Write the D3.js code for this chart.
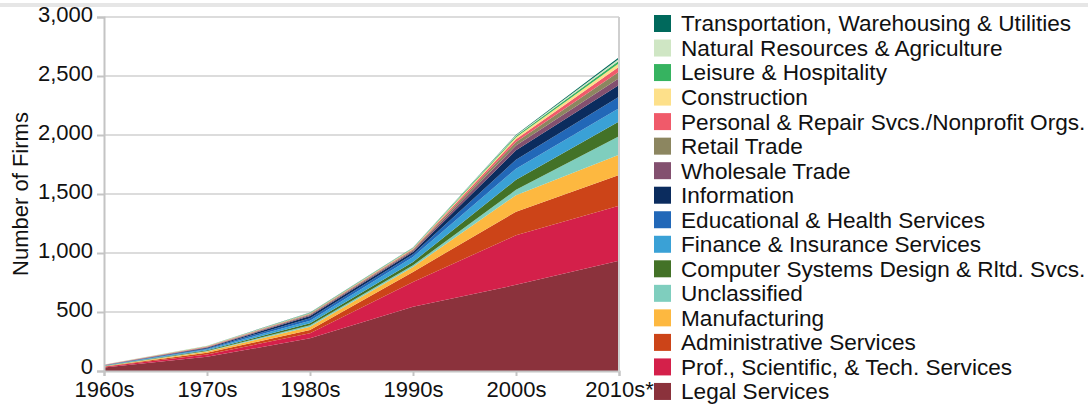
<!DOCTYPE html>
<html>
<head>
<meta charset="utf-8">
<script src="https://cdn.jsdelivr.net/npm/d3@7"></script>
<style>
  body { margin: 0; background: #fff; }
  svg text { font-family: "Liberation Sans", Arial, sans-serif; fill: #111; }
</style>
</head>
<body>
<div id="chart"></div>
<script>
// decades on the x axis
const decades = ["1960s", "1970s", "1980s", "1990s", "2000s", "2010s*"];

// number of firms per sector (bottom layer first)
const legalServices      = [30, 120, 277, 545, 730, 935];
const profSciTech        = [5, 20, 42, 210, 420, 465];
const adminServices      = [3, 14, 28, 85, 200, 260];
const manufacturing      = [3, 12, 28, 42, 140, 173];
const unclassified       = [1, 4, 12, 14, 45, 157];
const computerSystems    = [2, 6, 17, 28, 85, 125];
const financeInsurance   = [2, 8, 22, 43, 95, 111];
const eduHealth          = [2, 7, 21, 23, 75, 99];
const information        = [1, 6, 19, 19, 80, 99];
const wholesaleTrade     = [1, 4, 8, 10, 40, 56];
const retailTrade        = [1, 3, 6, 8, 30, 57];
const personalRepair     = [1, 3, 5, 7, 25, 42];
const construction       = [1, 2, 3, 5, 15, 28];
const leisureHospitality = [1, 2, 3, 4, 12, 23];
const naturalResources   = [1, 2, 2, 2, 6, 17];
const transportation     = [0, 1, 2, 2, 5, 11];

const yTicks = [0, 500, 1000, 1500, 2000, 2500, 3000];

const sectors = [
  {key: "Legal Services", values: legalServices, color: "#8b323c"},
  {key: "Prof., Scientific, & Tech. Services", values: profSciTech, color: "#d4204a"},
  {key: "Administrative Services", values: adminServices, color: "#cc4418"},
  {key: "Manufacturing", values: manufacturing, color: "#fdb840"},
  {key: "Unclassified", values: unclassified, color: "#7fcebe"},
  {key: "Computer Systems Design & Rltd. Svcs.", values: computerSystems, color: "#437227"},
  {key: "Finance & Insurance Services", values: financeInsurance, color: "#3aa1d6"},
  {key: "Educational & Health Services", values: eduHealth, color: "#2268b8"},
  {key: "Information", values: information, color: "#0b2c5e"},
  {key: "Wholesale Trade", values: wholesaleTrade, color: "#83506f"},
  {key: "Retail Trade", values: retailTrade, color: "#8c8660"},
  {key: "Personal & Repair Svcs./Nonprofit Orgs.", values: personalRepair, color: "#f05a6a"},
  {key: "Construction", values: construction, color: "#fde08a"},
  {key: "Leisure & Hospitality", values: leisureHospitality, color: "#36b360"},
  {key: "Natural Resources & Agriculture", values: naturalResources, color: "#cfe6c4"},
  {key: "Transportation, Warehousing & Utilities", values: transportation, color: "#00695c"}
];

const width = 1088, height = 404;
const svg = d3.select("#chart").append("svg")
  .attr("width", width).attr("height", height);

// thin band along the top
svg.append("rect").attr("x", 0).attr("y", 3).attr("width", width).attr("height", 4).attr("fill", "#e6e6e6");

const x = d3.scalePoint().domain(decades).range([104, 619]);
const y = d3.scaleLinear().domain([0, 3000]).range([371, 17]);

// rows for the stack
const table = decades.map((d, i) => {
  const row = {decade: d};
  sectors.forEach(s => row[s.key] = s.values[i]);
  return row;
});

const stack = d3.stack().keys(sectors.map(s => s.key));
const layers = stack(table);

// gridlines
svg.append("g").selectAll("line").data(yTicks.slice(1)).join("line")
  .attr("x1", 104).attr("x2", 619)
  .attr("y1", d => y(d)).attr("y2", d => y(d))
  .attr("stroke", "#dcdcdc").attr("stroke-width", 2);

const area = d3.area()
  .x(d => x(d.data.decade))
  .y0(d => y(d[0]))
  .y1(d => y(d[1]));

svg.append("g").selectAll("path").data(layers).join("path")
  .attr("d", area)
  .attr("fill", (d, i) => sectors[i].color);

// y axis
const yAxis = svg.append("g").attr("transform", "translate(104,0)")
  .call(d3.axisLeft(y).tickValues(yTicks).tickFormat(d3.format(",")).tickSize(7).tickPadding(4));
yAxis.select(".domain").attr("stroke", "#c4c4c4").attr("stroke-width", 2);
yAxis.selectAll(".tick line").attr("stroke", "#c4c4c4").attr("stroke-width", 2);
yAxis.selectAll("text").attr("font-size", 22).attr("y", d => d === 0 ? -5 : -3)
  .style("font-family", "Liberation Sans, Arial, sans-serif").attr("fill", "#111");

// x axis
const xAxis = svg.append("g").attr("transform", "translate(0,371)")
  .call(d3.axisBottom(x).tickSize(5).tickPadding(5));
xAxis.select(".domain").attr("stroke", "#c4c4c4").attr("stroke-width", 2);
xAxis.selectAll(".tick line").attr("stroke", "#c4c4c4").attr("stroke-width", 2);
xAxis.selectAll("text").attr("font-size", 22).style("font-family", "Liberation Sans, Arial, sans-serif").attr("fill", "#111");

// right edge line
svg.append("line").attr("x1", 619).attr("x2", 619).attr("y1", 17).attr("y2", 372)
  .attr("stroke", "#cfcfcf").attr("stroke-width", 2);

// y axis title
svg.append("text")
  .attr("transform", "translate(28," + y(1500) + ") rotate(-90)")
  .attr("text-anchor", "middle")
  .attr("font-size", 22)
  .text("Number of Firms");

// legend, top entry first
const legend = svg.append("g").selectAll("g").data(sectors.slice().reverse()).join("g")
  .attr("transform", (d, i) => "translate(654," + (15 + i * 24.53) + ")");
legend.append("rect").attr("width", 17).attr("height", 17).attr("fill", d => d.color);
legend.append("text").attr("x", 27).attr("y", 8.5).attr("dy", "0.35em")
  .attr("font-size", 22.6).text(d => d.key);
</script>
</body>
</html>
